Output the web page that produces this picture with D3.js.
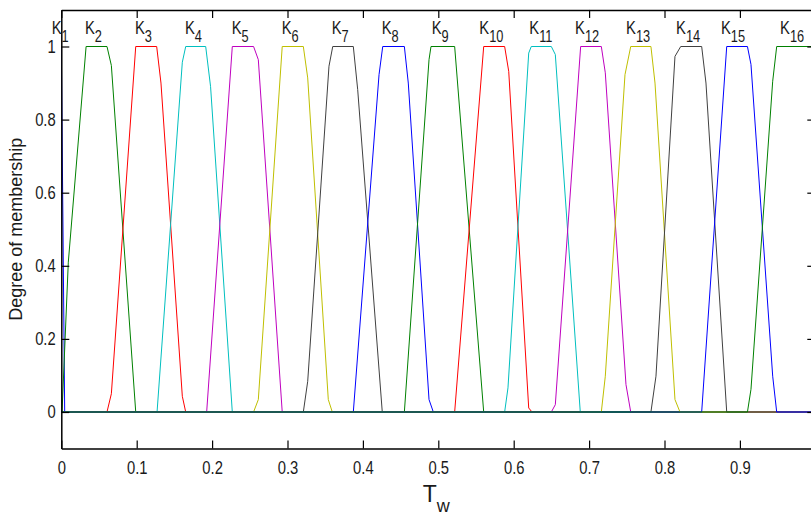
<!DOCTYPE html>
<html>
<head>
<meta charset="utf-8">
<script src="https://cdn.jsdelivr.net/npm/d3@7"></script>
<style>
  body { margin: 0; background: #fff; }
  svg { display: block; font-family: "Liberation Sans", Arial, sans-serif; }
</style>
</head>
<body>
<script>
// membership functions K1..K16, vertices [Tw, degree]
var k1 = [[0, 1], [0.0045, 0], [1, 0]];
var k2 = [[0, 0], [0.001, 0], [0.0093, 0.41], [0.0329, 1], [0.0606, 1], [0.0664, 0.948], [0.0987, 0], [1, 0]];
var k3 = [[0, 0], [0.0606, 0], [0.0664, 0.05], [0.0987, 1], [0.1265, 1], [0.1322, 0.90], [0.1605, 0.043], [0.165, 0], [1, 0]];
var k4 = [[0, 0], [0.127, 0], [0.1605, 0.957], [0.165, 1], [0.1915, 1], [0.198, 0.89], [0.2268, 0], [1, 0]];
var k5 = [[0, 0], [0.1928, 0], [0.2268, 1], [0.255, 1], [0.2613, 0.964], [0.293, 0], [1, 0]];
var k6 = [[0, 0], [0.255, 0], [0.2613, 0.034], [0.293, 1], [0.321, 1], [0.3268, 0.914], [0.3541, 0.034], [0.3594, 0], [1, 0]];
var k7 = [[0, 0], [0.321, 0], [0.3268, 0.084], [0.355, 0.946], [0.36, 1], [0.3873, 1], [0.3931, 0.882], [0.4257, 0], [1, 0]];
var k8 = [[0, 0], [0.3873, 0], [0.4214, 0.923], [0.4263, 1], [0.455, 1], [0.4602, 0.90], [0.4877, 0.034], [0.4934, 0], [1, 0]];
var k9 = [[0, 0], [0.455, 0], [0.4877, 0.964], [0.4903, 1], [0.5217, 1], [0.5602, 0], [1, 0]];
var k10 = [[0, 0], [0.5217, 0], [0.5602, 1], [0.588, 1], [0.5934, 0.932], [0.6199, 0.011], [0.6243, 0], [1, 0]];
var k11 = [[0, 0], [0.588, 0], [0.5924, 0.066], [0.6199, 0.982], [0.6233, 1], [0.6499, 1], [0.6552, 0.978], [0.6883, 0], [1, 0]];
var k12 = [[0, 0], [0.6499, 0], [0.6552, 0.02], [0.6888, 1], [0.7162, 1], [0.7215, 0.928], [0.7489, 0.075], [0.7552, 0], [1, 0]];
var k13 = [[0, 0], [0.7162, 0], [0.7215, 0.098], [0.7476, 0.923], [0.7552, 1], [0.782, 1], [0.7874, 0.9], [0.8139, 0.034], [0.8205, 0], [1, 0]];
var k14 = [[0, 0], [0.782, 0], [0.7887, 0.098], [0.8139, 0.973], [0.8215, 1], [0.8493, 1], [0.855, 0.9], [0.8825, 0], [1, 0]];
var k15 = [[0, 0], [0.8493, 0], [0.8825, 1], [0.91, 1], [0.9147, 0.951], [0.9435, 0.098], [0.9488, 0], [1, 0]];
var k16 = [[0, 0], [0.91, 0], [0.9147, 0.062], [0.9435, 0.905], [0.9488, 1], [1, 1]];
var curves = [k1, k2, k3, k4, k5, k6, k7, k8, k9, k10, k11, k12, k13, k14, k15, k16];

// K labels: subscript and x where the label starts (data units)
var labelSub = ["1", "2", "3", "4", "5", "6", "7", "8", "9", "10", "11", "12", "13", "14", "15", "16"];
var labelX = [-0.0127, 0.0314, 0.0977, 0.164, 0.226, 0.2923, 0.3586, 0.4249, 0.4913, 0.5544, 0.6207, 0.6813, 0.749, 0.8153, 0.8749, 0.9532];
var labelY = 1.034;

var xTicks = [0, 0.1, 0.2, 0.3, 0.4, 0.5, 0.6, 0.7, 0.8, 0.9, 1];
var xTickLabels = ["0", "0.1", "0.2", "0.3", "0.4", "0.5", "0.6", "0.7", "0.8", "0.9", ""]; // "1" falls off the right edge
var yTicks = [0, 0.2, 0.4, 0.6, 0.8, 1];
var yTickLabels = ["0", "0.2", "0.4", "0.6", "0.8", "1"];

// old matlab line colours
var palette = ["#0000ff", "#008000", "#ff0000", "#00bfbf", "#bf00bf", "#bfbf00", "#404040"];

var width = 811, height = 516;
var x = d3.scaleLinear().domain([0, 1]).range([61.3, 815.3]);
var y = d3.scaleLinear().domain([-0.1, 1.1]).range([448.55, 9.95]);
var tickLen = 8;
var squeeze = "scale(0.8,1)"; // the figure's text is narrow, like a squashed helvetica

var svg = d3.select("body").append("svg")
	.attr("width", width)
	.attr("height", height);

svg.append("defs").append("clipPath").attr("id", "plotclip")
	.append("rect")
	.attr("x", x(0)).attr("y", y(1.1))
	.attr("width", x(1) - x(0)).attr("height", y(-0.1) - y(1.1));

// curves
var line = d3.line().x(function(d){ return x(d[0]); }).y(function(d){ return y(d[1]); });
var plot = svg.append("g").attr("clip-path", "url(#plotclip)");
for(var i = 0; i < curves.length; i++){
	plot.append("path")
		.attr("d", line(curves[i]))
		.attr("fill", "none")
		.attr("stroke", palette[i % palette.length])
		.attr("stroke-width", 1)
		.attr("stroke-linejoin", "round");
}

// axes, matlab style: ticks inward on all four sides
var axBottom = d3.axisBottom(x).tickValues(xTicks).tickSizeInner(-tickLen).tickSizeOuter(0).tickPadding(12)
	.tickFormat(function(d, i){ return xTickLabels[i]; });
var axTop = d3.axisTop(x).tickValues(xTicks).tickSizeInner(-tickLen).tickSizeOuter(0).tickFormat("");
var axLeft = d3.axisLeft(y).tickValues(yTicks).tickSizeInner(-tickLen).tickSizeOuter(0).tickPadding(7)
	.tickFormat(function(d, i){ return yTickLabels[i]; });
var axRight = d3.axisRight(y).tickValues(yTicks).tickSizeInner(-tickLen).tickSizeOuter(0).tickFormat("");

var axes = [
	svg.append("g").attr("transform", "translate(0," + y(-0.1) + ")").call(axBottom),
	svg.append("g").attr("transform", "translate(0," + y(1.1) + ")").call(axTop),
	svg.append("g").attr("transform", "translate(" + x(0) + ",0)").call(axLeft),
	svg.append("g").attr("transform", "translate(" + x(1) + ",0)").call(axRight)
];
axes.forEach(function(g){
	g.select(".domain").attr("stroke", "#000").attr("stroke-width", 1.5);
	g.selectAll(".tick line").attr("stroke", "#000").attr("stroke-width", 1.2);
	g.selectAll(".tick text")
		.attr("fill", "#1a1a1a")
		.attr("transform", squeeze)
		.style("font-family", "'Liberation Sans', Arial, sans-serif")
		.style("font-size", "18.5px");
});

// K labels
for(var j = 0; j < labelSub.length; j++){
	var t = svg.append("g")
		.attr("transform", "translate(" + x(labelX[j]) + "," + y(labelY) + ")")
		.append("text")
		.attr("transform", squeeze)
		.attr("fill", "#1a1a1a")
		.style("font-size", "18.5px");
	t.append("tspan").text("K");
	t.append("tspan").attr("dy", 8).style("font-size", "16px").text(labelSub[j]);
}

// axis titles
svg.append("text")
	.attr("transform", "translate(" + 21.5 + "," + y(0.5) + ") rotate(-90)")
	.attr("text-anchor", "middle")
	.attr("fill", "#1a1a1a")
	.style("font-size", "18px")
	.text("Degree of membership");

var xt = svg.append("text")
	.attr("x", x(0.5) - 2)
	.attr("y", 502)
	.attr("text-anchor", "middle")
	.attr("fill", "#1a1a1a")
	.style("font-size", "23px");
xt.append("tspan").text("T");
xt.append("tspan").attr("dy", 10).style("font-size", "18px").text("w");
</script>
</body>
</html>
